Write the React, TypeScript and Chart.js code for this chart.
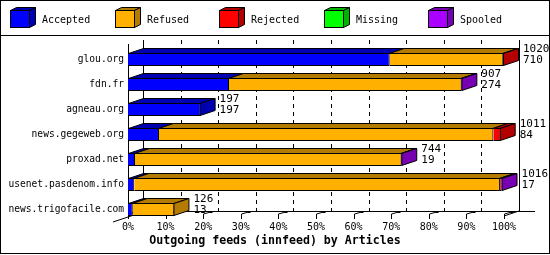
import React, { useEffect, useRef } from "react";
import { Chart, registerables } from "chart.js";

Chart.register(...registerables);

// ---- data ----
const categories = [
  "glou.org",
  "fdn.fr",
  "agneau.org",
  "news.gegeweb.org",
  "proxad.net",
  "usenet.pasdenom.info",
  "news.trigofacile.com",
];
const offered = [1020, 907, 197, 1011, 744, 1016, 126];
const accepted = [710, 274, 197, 84, 19, 17, 13];
const refused = [308, 631, 0, 907, 723, 992, 113];
const rejected = [2, 0, 0, 20, 0, 4, 0];
const missing = [0, 0, 0, 0, 0, 0, 0];
const spooled = [0, 2, 0, 0, 2, 3, 0];

const seriesNames = ["Accepted", "Refused", "Rejected", "Missing", "Spooled"];
const seriesValues = [accepted, refused, rejected, missing, spooled];
const seriesColors = ["#0000ff", "#ffb000", "#ff0000", "#00ff00", "#aa00ff"];
const titleText = "Outgoing feeds (innfeed) by Articles";

const MONO = "'DejaVu Sans Mono', 'Liberation Mono', monospace";
const DX = 15;
const DY = -5;

function darker(hex: string, f = 0.7): string {
  const n = parseInt(hex.slice(1), 16);
  const r = Math.round(((n >> 16) & 255) * f);
  const g = Math.round(((n >> 8) & 255) * f);
  const b = Math.round((n & 255) * f);
  return `rgb(${r},${g},${b})`;
}

function poly(ctx: CanvasRenderingContext2D, pts: number[][], fill: string) {
  ctx.beginPath();
  ctx.moveTo(pts[0][0], pts[0][1]);
  for (let i = 1; i < pts.length; i++) ctx.lineTo(pts[i][0], pts[i][1]);
  ctx.closePath();
  ctx.fillStyle = fill;
  ctx.fill();
  ctx.stroke();
}

function line(ctx: CanvasRenderingContext2D, x1: number, y1: number, x2: number, y2: number) {
  ctx.beginPath();
  ctx.moveTo(x1, y1);
  ctx.lineTo(x2, y2);
  ctx.stroke();
}

const depthPlugin = {
  id: "depth3d",
  beforeDraw(chart: any) {
    const { ctx, width, height } = chart;
    ctx.save();
    ctx.fillStyle = "#fff";
    ctx.fillRect(0, 0, width, height);
    ctx.restore();
  },
  beforeDatasetsDraw(chart: any) {
    const { ctx, chartArea } = chart;
    const xs = chart.scales.x;
    const ticks = xs.ticks;
    ctx.save();
    ctx.strokeStyle = "#000";
    ctx.lineWidth = 1;
    const topY = 40;
    const backFloor = 211.5;
    ticks.forEach((t: any, k: number) => {
      const bx = Math.round(xs.getPixelForValue(t.value)) + DX + 0.5;
      ctx.setLineDash(k === 0 || k === ticks.length - 1 ? [] : [4, 4]);
      line(ctx, bx, topY, bx, backFloor);
    });
    ctx.setLineDash([]);
    const left = Math.round(chartArea.left);
    line(ctx, left + DX, backFloor, 535, backFloor);
    line(ctx, 113, 222, left + DX, 212);
    const right = Math.round(xs.getPixelForValue(xs.max));
    line(ctx, right, 216, right + DX, 211);
    line(ctx, left + 0.5, 44, left + 0.5, 216);
    ticks.forEach((t: any) => {
      const fx = Math.round(xs.getPixelForValue(t.value)) + 0.5;
      line(ctx, fx, 214, fx, 219);
      line(ctx, fx, 214, fx + 7, 212);
      ctx.fillStyle = "#000";
      ctx.fillRect(fx + 6, 211, 3, 2);
    });
    ctx.restore();
  },
  afterDatasetsDraw(chart: any) {
    const { ctx, chartArea } = chart;
    const ds = chart.data.datasets;
    ctx.save();
    ctx.strokeStyle = "#000";
    ctx.lineWidth = 1;
    for (let i = 0; i < categories.length; i++) {
      let last: any = null;
      let lastColor = "";
      let first = true;
      for (let d = 0; d < ds.length; d++) {
        const v = ds[d].data[i];
        if (!v) continue;
        const el = chart.getDatasetMeta(d).data[i];
        const p = el.getProps(["x", "base", "y", "height"], true);
        const yt = p.y - p.height / 2 + 0.5;
        const l = first ? Math.max(p.base, chartArea.left) + 0.5 : p.base - 0.5;
        const r = p.x - 0.5;
        const dark = darker(seriesColors[d]);
        poly(ctx, [[l, yt], [r, yt], [r + DX, yt + DY], [l + DX, yt + DY]], dark);
        first = false;
        last = p;
        lastColor = dark;
      }
      if (last) {
        const yt = last.y - last.height / 2 + 0.5;
        const yb = last.y + last.height / 2 - 0.5;
        const r = last.x - 0.5;
        poly(ctx, [[r, yt], [r + DX, yt + DY], [r + DX, yb + DY], [r, yb]], lastColor);
        ctx.fillStyle = "#000";
        ctx.font = `11px ${MONO}`;
        ctx.textAlign = "left";
        ctx.textBaseline = "middle";
        const tx = r + DX + 4.5;
        ctx.fillText(String(offered[i]), tx, yt - 4.5);
        ctx.fillText(String(accepted[i]), tx, yt + 7);
      }
    }
    ctx.restore();
  },
  afterDraw(chart: any) {
    const { ctx, width } = chart;
    ctx.save();
    ctx.strokeStyle = "#000";
    ctx.lineWidth = 1;
    // legend
    seriesNames.forEach((name, k) => {
      const x0 = Math.round(10 + k * 104.5) + 0.5;
      const y0 = 10.5;
      const w = 19;
      const h = 17;
      const dark = darker(seriesColors[k]);
      poly(ctx, [[x0, y0], [x0 + w, y0], [x0 + w + 6, y0 - 3], [x0 + 6, y0 - 3]], dark);
      poly(ctx, [[x0 + w, y0], [x0 + w + 6, y0 - 3], [x0 + w + 6, y0 + h - 3], [x0 + w, y0 + h]], dark);
      ctx.fillStyle = seriesColors[k];
      ctx.fillRect(x0, y0, w, h);
      ctx.strokeRect(x0, y0, w, h);
      ctx.fillStyle = "#000";
      ctx.font = `10px ${MONO}`;
      ctx.textAlign = "left";
      ctx.textBaseline = "middle";
      ctx.fillText(name, x0 + 31.5, 20);
    });
    line(ctx, 0, 35.5, width, 35.5);
    // title
    ctx.fillStyle = "#000";
    ctx.font = `bold 11.6px ${MONO}`;
    ctx.textAlign = "center";
    ctx.textBaseline = "middle";
    ctx.fillText(titleText, width / 2, 241);
    // border
    ctx.strokeRect(0.5, 0.5, 549, 253);
    ctx.restore();
  },
};

export default function App() {
  const ref = useRef<HTMLCanvasElement | null>(null);
  useEffect(() => {
    document.body.style.margin = "0";
    if (!ref.current) return;
    const maxOffered = Math.max(...offered);
    const chart = new Chart(ref.current, {
      type: "bar",
      data: {
        labels: categories,
        datasets: seriesNames.map((name, k) => ({
          label: name,
          data: seriesValues[k].map((v) => (v ? v : null)),
          backgroundColor: seriesColors[k],
          borderColor: "#000",
          borderWidth: 1,
          borderSkipped: "start",
          barThickness: 13,
          inflateAmount: 0,
          stack: "s",
        })),
      },
      options: {
        indexAxis: "y",
        animation: false,
        responsive: false,
        devicePixelRatio: 1,
        layout: { padding: { top: 47, right: 46, left: 0, bottom: 0 } },
        plugins: { legend: { display: false }, tooltip: { enabled: false } },
        scales: {
          x: {
            type: "linear",
            stacked: true,
            min: 0,
            max: maxOffered,
            grid: { display: false, drawTicks: false },
            border: { display: false },
            ticks: {
              stepSize: maxOffered / 10,
              autoSkip: false,
              maxRotation: 0,
              padding: 0,
              color: "#000",
              font: { family: MONO, size: 10, lineHeight: 1 },
              callback: (v: any) => Math.round((Number(v) * 100) / maxOffered) + "%",
            },
            afterFit: (s: any) => {
              s.height = 33;
            },
          },
          y: {
            type: "category",
            stacked: true,
            grid: { display: false, drawTicks: false },
            border: { display: false },
            ticks: {
              autoSkip: false,
              padding: 4,
              color: "#000",
              font: { family: MONO, size: 9.6 },
            },
            afterFit: (s: any) => {
              s.width = 128;
            },
          },
        },
      },
      plugins: [depthPlugin],
    } as any);
    return () => chart.destroy();
  }, []);
  return <canvas ref={ref} width={550} height={255} style={{ display: "block" }} />;
}
